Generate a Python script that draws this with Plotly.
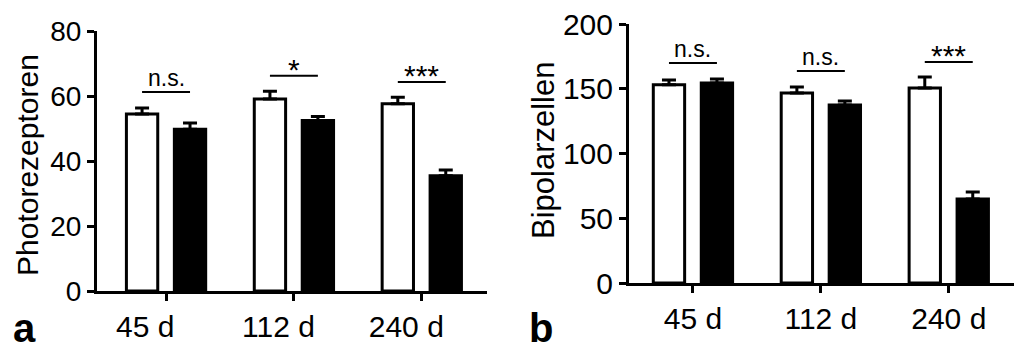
import plotly.graph_objects as go

categories = ["45 d", "112 d", "240 d"]

# Panel a: Photorezeptoren
a_ctrl = [54.5, 59.1, 57.6]
a_ctrl_err = [1.8, 2.4, 2.0]
a_treat = [49.8, 52.5, 35.5]
a_treat_err = [1.9, 1.2, 1.7]
a_sig_labels = ["n.s.", "*", "***"]
a_sig_heights = [61.2, 66.2, 64.3]
a_yticks = [0, 20, 40, 60, 80]

# Panel b: Bipolarzellen
b_ctrl = [153.0, 146.7, 150.6]
b_ctrl_err = [3.7, 4.7, 8.4]
b_treat = [154.4, 137.5, 64.9]
b_treat_err = [3.1, 3.0, 5.4]
b_sig_labels = ["n.s.", "n.s.", "***"]
b_sig_heights = [169.9, 163.7, 170.6]
b_yticks = [0, 50, 100, 150, 200]

FONT = "Liberation Sans, Arial, Helvetica, sans-serif"
W, H = 1024, 351
BW = 0.245
OFF = 0.1875

fig = go.Figure()

def add_panel(ctrl, ctrl_err, treat, treat_err, xa, ya):
    fig.add_trace(go.Bar(
        x=categories, y=ctrl, xaxis=xa, yaxis=ya,
        width=BW, offset=-OFF - BW / 2,
        marker=dict(color="white", line=dict(color="black", width=3)),
        error_y=dict(type="data", array=ctrl_err, arrayminus=[0] * 3, symmetric=False,
                     color="black", thickness=3, width=7),
        showlegend=False))
    fig.add_trace(go.Bar(
        x=categories, y=treat, xaxis=xa, yaxis=ya,
        width=BW, offset=OFF - BW / 2,
        marker=dict(color="black", line=dict(color="black", width=3)),
        error_y=dict(type="data", array=treat_err, arrayminus=[0] * 3, symmetric=False,
                     color="black", thickness=3, width=7),
        showlegend=False))

add_panel(a_ctrl, a_ctrl_err, a_treat, a_treat_err, "x", "y")
add_panel(b_ctrl, b_ctrl_err, b_treat, b_treat_err, "x2", "y2")

def sig(labels, heights, xr, yr):
    for i, (lab, h) in enumerate(zip(labels, heights)):
        fig.add_shape(type="line", xref=xr, yref=yr, x0=i - OFF, x1=i + OFF, y0=h, y1=h,
                      line=dict(color="black", width=2))
        star = "*" in lab
        fig.add_annotation(xref=xr, yref=yr, x=i, y=h, text=lab, showarrow=False,
                           xanchor="center", yanchor="bottom",
                           yshift=-12 if star else -1,
                           font=dict(family=FONT, size=30 if star else 23, color="black"))

sig(a_sig_labels, a_sig_heights, "x", "y")
sig(b_sig_labels, b_sig_heights, "x2", "y2")

axis_common = dict(showline=True, linecolor="black", linewidth=3, ticks="outside",
                   ticklen=7, tickwidth=3, tickcolor="black", showgrid=False, zeroline=False,
                   automargin=False)
xfont = dict(family=FONT, size=30, color="black")
yfont_a = dict(family=FONT, size=28, color="black")
yfont_b = dict(family=FONT, size=30, color="black")

# panel a tick labels sit slightly left of their ticks in the reference
pad_a = ["\u00a0" * 5, "\u00a0" * 3 + "\u2009", "\u00a0" * 3 + "\u2009"]
a_ticktext = [c + p for c, p in zip(categories, pad_a)]

fig.update_layout(
    width=W, height=H, margin=dict(l=0, r=0, t=0, b=0, autoexpand=False),
    paper_bgcolor="white", plot_bgcolor="white", barmode="overlay",
    xaxis=dict(domain=[97 / W, 487 / W], range=[-0.54, 2.51], anchor="y",
               tickvals=categories, ticktext=a_ticktext,
               tickfont=xfont, **axis_common),
    yaxis=dict(domain=[(H - 291) / H, (H - 31) / H], range=[0, 80], tickvals=a_yticks,
               anchor="x", tickfont=yfont_a, **axis_common),
    xaxis2=dict(domain=[629 / W, 1014 / W], range=[-0.5, 2.51], anchor="y2",
                tickfont=xfont, **axis_common),
    yaxis2=dict(domain=[(H - 283) / H, (H - 24) / H], range=[0, 200], tickvals=b_yticks,
                anchor="x2", tickfont=yfont_b, **axis_common),
)

# axis titles and panel letters
fig.add_annotation(xref="paper", yref="paper", x=27 / W, y=(H - 165) / H, text="Photorezeptoren",
                   textangle=-90, showarrow=False, xanchor="center", yanchor="middle",
                   font=dict(family=FONT, size=30, color="black"))
fig.add_annotation(xref="paper", yref="paper", x=543 / W, y=(H - 150) / H, text="Bipolarzellen",
                   textangle=-90, showarrow=False, xanchor="center", yanchor="middle",
                   font=dict(family=FONT, size=31, color="black"))
fig.add_annotation(xref="paper", yref="paper", x=24 / W, y=0, text="<b>a</b>",
                   showarrow=False, xanchor="center", yanchor="bottom", yshift=-1,
                   font=dict(family=FONT, size=40, color="black"))
fig.add_annotation(xref="paper", yref="paper", x=541 / W, y=0, text="<b>b</b>",
                   showarrow=False, xanchor="center", yanchor="bottom", yshift=-1,
                   font=dict(family=FONT, size=40, color="black"))

fig.write_html("out.html")
